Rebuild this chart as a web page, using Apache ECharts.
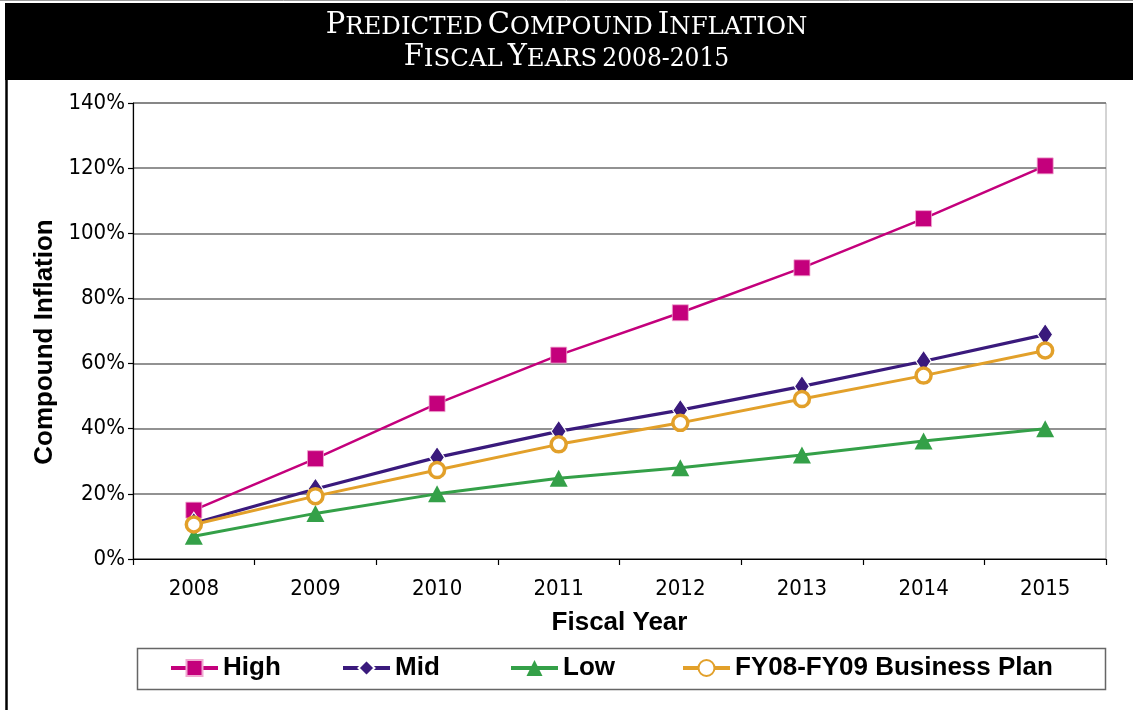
<!DOCTYPE html>
<html>
<head>
<meta charset="utf-8">
<title>Predicted Compound Inflation</title>
<script src="https://cdn.jsdelivr.net/npm/echarts@6/dist/echarts.min.js"></script>
<style>
  html, body { margin: 0; padding: 0; background: #ffffff; }
  #chart { width: 1133px; height: 710px; }
</style>
</head>
<body>
<div id="chart"></div>
<script>
// Fiscal years on the category axis
const years = ['2008', '2009', '2010', '2011', '2012', '2013', '2014', '2015'];

// Compound inflation scenarios, in percent
const high = [15.0, 30.8, 47.7, 62.6, 75.6, 89.4, 104.5, 120.7];
const mid = [11.0, 21.5, 31.2, 39.2, 45.7, 53.0, 60.7, 68.9];
const low = [7.0, 14.0, 20.0, 24.8, 28.0, 31.9, 36.2, 40.0];
const plan = [10.6, 19.3, 27.3, 35.2, 41.8, 49.1, 56.3, 64.0];

// Value axis ticks
const yMin = 0;
const yMax = 140;
const yStep = 20;

const C_HIGH = '#c4007c';
const C_MID = '#3a1a7c';
const C_LOW = '#34a048';
const C_PLAN = '#e2a02a';

const chart = echarts.init(document.getElementById('chart'), null, { renderer: 'canvas' });

const legendFont = { fontFamily: 'Liberation Sans, Arial, sans-serif', fontWeight: 'bold', fontSize: 26, color: '#000' };
function legendAt(name, left) {
  return {
    data: [name], left: left, top: 655, orient: 'horizontal',
    itemWidth: 47, itemHeight: 20, itemGap: 0, padding: 0,
    lineStyle: { width: 4 },
    textStyle: legendFont, selectedMode: false
  };
}

const serif = { fontFamily: 'DejaVu Serif', fontWeight: 'normal', color: '#fff', verticalAlign: 'bottom' };

const option = {
  animation: false,
  backgroundColor: '#ffffff',
  title: {
    left: 'center', top: 8, padding: 0,
    text: '{b|P}{s|REDICTED} {b|C}{s|OMPOUND} {b|I}{s|NFLATION}\n{b|F}{s|ISCAL} {b|Y}{s|EARS} {d|2008-2015}',
    textStyle: {
      color: '#fff', fontWeight: 'normal',
      rich: {
        b: Object.assign({}, serif, { fontSize: 29, lineHeight: 32 }),
        s: Object.assign({}, serif, { fontSize: 24.4, lineHeight: 28.8 }),
        d: Object.assign({}, serif, { fontFamily: 'DejaVu Serif Condensed', fontSize: 26, lineHeight: 30.2 })
      }
    }
  },
  graphic: [
    { type: 'line', silent: true, z: -1, shape: { x1: 0, y1: 0.5, x2: 1133, y2: 0.5 }, style: { stroke: '#9a9a9a', lineWidth: 1 } },
    { type: 'rect', silent: true, z: -1, shape: { x: 5, y: 3, width: 1128, height: 77 }, style: { fill: '#000' } },
    { type: 'line', silent: true, z: -1, shape: { x1: 6.5, y1: 78, x2: 6.5, y2: 710 }, style: { stroke: '#000', lineWidth: 2.5 } },
    { type: 'rect', silent: true, z: -1, shape: { x: 137.5, y: 648.5, width: 968, height: 41 }, style: { fill: '#fff', stroke: '#666', lineWidth: 1.5 } }
  ],
  legend: [
    legendAt('High', 169),
    legendAt('Mid', 341),
    legendAt('Low', 509),
    legendAt('FY08-FY09 Business Plan', 681)
  ],
  grid: {
    left: 133, right: 27, top: 103, bottom: 151,
    show: true, borderColor: '#a8a8a8', borderWidth: 1, backgroundColor: 'transparent'
  },
  xAxis: {
    type: 'category',
    data: years,
    boundaryGap: true,
    name: 'Fiscal Year',
    nameLocation: 'middle',
    nameGap: 51,
    nameTextStyle: { fontFamily: 'Liberation Sans, Arial, sans-serif', fontWeight: 'bold', fontSize: 26, color: '#000' },
    axisLine: { lineStyle: { color: '#000', width: 1.2 } },
    axisTick: { show: true, alignWithLabel: false, length: 6, lineStyle: { color: '#000', width: 1.2 } },
    axisLabel: { margin: 19, fontFamily: 'DejaVu Sans Condensed', fontSize: 22, color: '#000' },
    splitLine: { show: false }
  },
  yAxis: {
    type: 'value',
    min: yMin, max: yMax, interval: yStep,
    name: 'Compound Inflation',
    nameLocation: 'middle',
    nameGap: 71,
    nameRotate: 90,
    nameTextStyle: { fontFamily: 'Liberation Sans, Arial, sans-serif', fontWeight: 'bold', fontSize: 26, color: '#000', padding: [0, 22, 0, 0] },
    axisLine: { show: true, lineStyle: { color: '#000', width: 1.2 } },
    axisTick: { show: true, length: 5, lineStyle: { color: '#000', width: 1.2 } },
    axisLabel: { margin: 8, fontFamily: 'DejaVu Sans Condensed', fontSize: 22, color: '#000', formatter: '{value}%' },
    splitLine: { show: true, lineStyle: { color: '#6e6e6e', width: 1.5 } }
  },
  series: [
    {
      name: 'High', type: 'line', data: high,
      symbol: 'rect', symbolSize: 16,
      lineStyle: { color: C_HIGH, width: 2.5 },
      itemStyle: { color: C_HIGH, borderColor: '#f0a8d0', borderWidth: 0.8 },
      z: 2
    },
    {
      name: 'Mid', type: 'line', data: mid,
      symbol: 'diamond', symbolSize: [15, 22],
      lineStyle: { color: C_MID, width: 3.2 },
      itemStyle: { color: C_MID, borderColor: '#ffffff', borderWidth: 1.2 },
      z: 3
    },
    {
      name: 'Low', type: 'line', data: low,
      symbol: 'triangle', symbolSize: [18, 17],
      lineStyle: { color: C_LOW, width: 3 },
      itemStyle: { color: C_LOW },
      z: 4
    },
    {
      name: 'FY08-FY09 Business Plan', type: 'line', data: plan,
      symbol: 'circle', symbolSize: 15,
      lineStyle: { color: C_PLAN, width: 3 },
      itemStyle: { color: '#ffffff', borderColor: C_PLAN, borderWidth: 3.5 },
      z: 5
    }
  ]
};

chart.setOption(option);
</script>
</body>
</html>
